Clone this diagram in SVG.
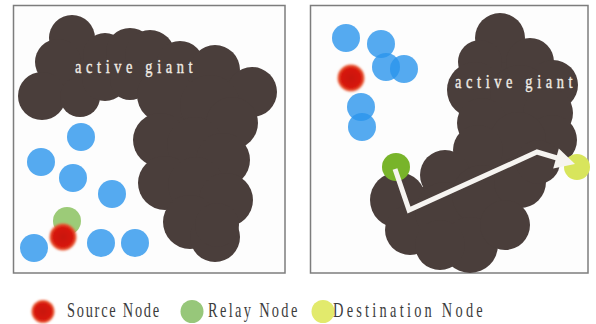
<svg xmlns="http://www.w3.org/2000/svg" width="596" height="324" viewBox="0 0 596 324">
  <style>
    .frame { fill: #fdfdfd; stroke: #7d7d7d; stroke-width: 1.5; }
    .giant { fill: #4a3e3b; }
    .giant-label { font-family: "Liberation Serif", "DejaVu Serif", serif; font-size: 18px; fill: #f1ede6; stroke: #f1ede6; stroke-width: 0.35; }
    .blue { fill: #55aaf0; }
    .blue-t { fill: #2a95ec; fill-opacity: 0.8; }
    .legend { font-family: "Liberation Serif", "DejaVu Serif", serif; font-size: 20px; fill: #3c3c3c; }
    .path { fill: none; stroke: #f6f4f1; stroke-width: 5; stroke-linejoin: miter; }
    .head { fill: #f6f4f1; }
  </style>
  <defs>
    <filter id="soft" x="-40%" y="-40%" width="180%" height="180%">
      <feGaussianBlur stdDeviation="1.3"/>
    </filter>
    <radialGradient id="redfill" cx="50%" cy="50%" r="50%">
      <stop offset="0" stop-color="#c81208"/>
      <stop offset="0.75" stop-color="#d8180c"/>
      <stop offset="1" stop-color="#ee6a40"/>
    </radialGradient>
  </defs>

  <!-- left panel -->
  <rect class="frame" x="13.5" y="5.5" width="271.5" height="267.5"/>
  <g id="giant-left" class="giant">
    <!-- core fill through the bubble centres, closes the gaps between bubbles -->
    <polygon points="72,38 105,55 130,52 150,55 180,65 215,70 252,92 232,123 223,160 226,200 217,225 215,237 190,222 165,183 160,140 165,95 130,80 105,78 80,97 42,96 58,62"/>
    <circle cx="72" cy="38" r="23"/>
    <circle cx="58" cy="62" r="23"/>
    <circle cx="42" cy="96" r="24"/>
    <circle cx="80" cy="97" r="20"/>
    <circle cx="105" cy="78" r="23"/>
    <circle cx="105" cy="55" r="22"/>
    <circle cx="130" cy="52" r="24"/>
    <circle cx="150" cy="55" r="25"/>
    <circle cx="180" cy="65" r="24"/>
    <circle cx="215" cy="70" r="25"/>
    <circle cx="252" cy="92" r="25"/>
    <circle cx="130" cy="80" r="20"/>
    <circle cx="165" cy="95" r="28"/>
    <circle cx="210" cy="105" r="30"/>
    <circle cx="232" cy="123" r="26"/>
    <circle cx="160" cy="140" r="27"/>
    <circle cx="195" cy="145" r="28"/>
    <circle cx="223" cy="160" r="27"/>
    <circle cx="165" cy="183" r="27"/>
    <circle cx="196" cy="185" r="28"/>
    <circle cx="226" cy="200" r="27"/>
    <circle cx="190" cy="222" r="27"/>
    <circle cx="215" cy="237" r="25"/>
    <circle cx="217" cy="225" r="22"/>
    <text class="giant-label" transform="translate(75,73) scale(0.8,1)" textLength="147" lengthAdjust="spacing">active giant</text>
  </g>
  <g id="nodes-left">
    <circle class="blue" cx="81" cy="137" r="14"/>
    <circle class="blue" cx="41" cy="162" r="14"/>
    <circle class="blue" cx="73" cy="178" r="14"/>
    <circle class="blue" cx="112" cy="194" r="14"/>
    <circle class="blue" cx="34" cy="248" r="14"/>
    <circle class="blue" cx="101" cy="243" r="14"/>
    <circle class="blue" cx="135" cy="243" r="14"/>
    <circle id="relay-left" cx="67" cy="221" r="14" fill="#9ccb78"/>
    <circle id="source-left" cx="63" cy="237" r="13.5" fill="url(#redfill)" filter="url(#soft)"/>
  </g>

  <!-- right panel -->
  <rect class="frame" x="310.5" y="5.5" width="277.5" height="267.5"/>
  <g id="giant-right" class="giant">
    <polygon points="500,38 530,62 553,85 548,113 552,140 538,162 520,180 505,225 470,245 440,245 410,230 398,200 445,175 478,150 482,123 475,90 480,62"/>
    <circle cx="500" cy="38" r="25"/>
    <circle cx="480" cy="62" r="22"/>
    <circle cx="530" cy="62" r="24"/>
    <circle cx="553" cy="85" r="25"/>
    <circle cx="475" cy="90" r="28"/>
    <circle cx="520" cy="95" r="30"/>
    <circle cx="548" cy="113" r="25"/>
    <circle cx="482" cy="123" r="25"/>
    <circle cx="552" cy="140" r="25"/>
    <circle cx="518" cy="140" r="28"/>
    <circle cx="478" cy="150" r="25"/>
    <circle cx="445" cy="175" r="25"/>
    <circle cx="398" cy="200" r="28"/>
    <circle cx="410" cy="230" r="25"/>
    <circle cx="445" cy="212" r="30"/>
    <circle cx="482" cy="195" r="30"/>
    <circle cx="520" cy="182" r="26"/>
    <circle cx="538" cy="162" r="22"/>
    <circle cx="470" cy="245" r="28"/>
    <circle cx="505" cy="225" r="25"/>
    <circle cx="440" cy="245" r="25"/>
    <text class="giant-label" transform="translate(455,88) scale(0.8,1)" textLength="147" lengthAdjust="spacing">active giant</text>
  </g>
  <g id="nodes-right">
    <circle class="blue-t" cx="346" cy="38" r="14"/>
    <circle class="blue-t" cx="381" cy="44" r="14"/>
    <circle class="blue-t" cx="386" cy="67" r="14"/>
    <circle class="blue-t" cx="404" cy="69" r="14"/>
    <circle class="blue-t" cx="361" cy="107" r="14"/>
    <circle class="blue-t" cx="362" cy="127" r="14"/>
    <circle id="source-right" cx="351" cy="78" r="13.5" fill="url(#redfill)" filter="url(#soft)"/>
    <circle id="relay-right" cx="396" cy="167" r="14" fill="#78b42a"/>
    <circle id="destination-right" cx="577" cy="167" r="13" fill="#d8e55c"/>
  </g>
  <g id="connectors">
    <polyline class="path" points="395,169 409,210 537,152 557,158"/>
    <polygon class="head" points="558.8,148.5 575,164 553.2,168.5"/>
  </g>

  <!-- legend -->
  <g id="legend-source">
    <circle cx="43" cy="311.5" r="11.5" fill="url(#redfill)" filter="url(#soft)"/>
    <text class="legend" transform="translate(67,317) scale(0.72,1)" textLength="128" lengthAdjust="spacing">Source Node</text>
  </g>
  <g id="legend-relay">
    <circle cx="192" cy="311.5" r="11.5" fill="#97c77a"/>
    <text class="legend" transform="translate(208,317) scale(0.72,1)" textLength="124" lengthAdjust="spacing">Relay Node</text>
  </g>
  <g id="legend-destination">
    <circle cx="323" cy="311.5" r="11.5" fill="#e2ea6c"/>
    <text class="legend" transform="translate(333,317) scale(0.72,1)" textLength="208" lengthAdjust="spacing">Destination Node</text>
  </g>
</svg>
